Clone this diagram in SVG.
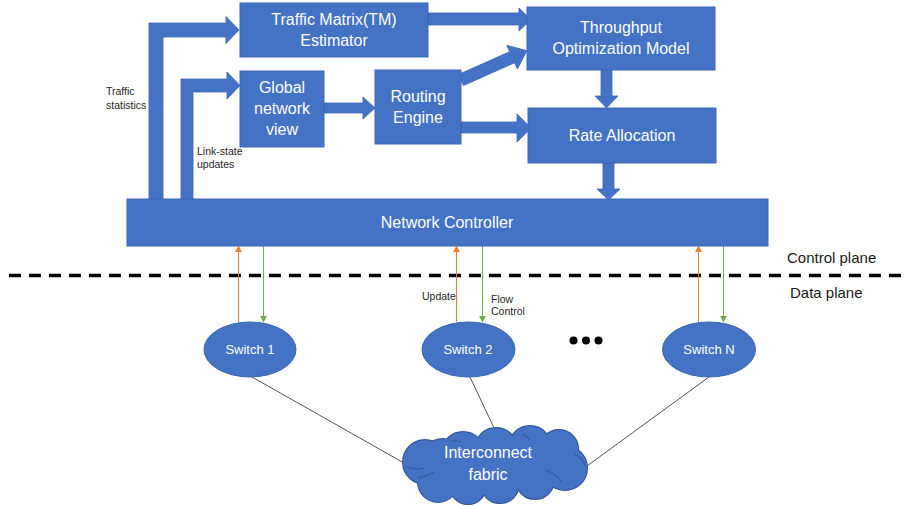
<svg xmlns="http://www.w3.org/2000/svg" width="909" height="506" viewBox="0 0 909 506">
  <style>
    .box { fill: #4472C4; stroke: #3A66B4; stroke-width: 1; }
    .blk { fill: #4472C4; stroke: #3A66B4; stroke-width: 0.8; }
    .lbl { font-family: "Liberation Sans", Arial, sans-serif; font-size: 16px; fill: #FFFFFF; text-anchor: middle; }
    .sw { font-family: "Liberation Sans", Arial, sans-serif; font-size: 13px; fill: #FFFFFF; text-anchor: middle; }
    .note { font-family: "Liberation Sans", Arial, sans-serif; font-size: 10.5px; fill: #262626; }
    .plane { font-family: "Liberation Sans", Arial, sans-serif; font-size: 15px; fill: #1A1A1A; }
    .up { stroke: #ED7D31; stroke-width: 1; fill: none; marker-end: url(#headUp); }
    .down { stroke: #70AD47; stroke-width: 1; fill: none; marker-end: url(#headDown); }
    .link { stroke: #404040; stroke-width: 0.9; fill: none; }
  </style>
  <defs>
    <marker id="headUp" viewBox="0 0 10 10" refX="9" refY="5" markerWidth="7" markerHeight="7" markerUnits="userSpaceOnUse" orient="auto">
      <path d="M0,0 L10,5 L0,10 Z" fill="#ED7D31"/>
    </marker>
    <marker id="headDown" viewBox="0 0 10 10" refX="9" refY="5" markerWidth="7" markerHeight="7" markerUnits="userSpaceOnUse" orient="auto">
      <path d="M0,0 L10,5 L0,10 Z" fill="#70AD47"/>
    </marker>
  </defs>

  <rect width="909" height="506" fill="#FFFFFF"/>

  <!-- control / data plane separator -->
  <line x1="9" y1="275.5" x2="909" y2="275.5" stroke="#000" stroke-width="3.5" stroke-dasharray="12 8"/>
  <text class="plane" x="787" y="263">Control plane</text>
  <text class="plane" x="790" y="298">Data plane</text>

  <!-- block arrows between control-plane modules -->
  <g id="connectors">
    <!-- Traffic statistics: controller -> TM estimator -->
    <polygon class="blk" points="149,200 149,23 226,23 226,16.5 239,30 226,43.5 226,37 163,37 163,200"/>
    <!-- Link-state updates: controller -> global view -->
    <polygon class="blk" points="181,200 181,79 227,79 227,72 240,85.5 227,99 227,92 193,92 193,200"/>
    <!-- global view -> routing engine -->
    <polygon class="blk" points="324,103 363,103 363,97 375,108 363,119 363,113 324,113"/>
    <!-- TM estimator -> throughput model -->
    <polygon class="blk" points="428,13 519,13 519,8 531,19.5 519,31 519,25 428,25"/>
    <!-- routing engine -> throughput model -->
    <polygon class="blk" transform="translate(461,80) rotate(-24)" points="0,-6 56,-6 56,-13 72,0 56,13 56,6 0,6"/>
    <!-- routing engine -> rate allocation -->
    <polygon class="blk" points="461,122 517,122 517,114 531,128 517,142 517,133 461,133"/>
    <!-- throughput model -> rate allocation -->
    <polygon class="blk" points="601,70 612,70 612,96 618,96 606.5,108 595,96 601,96"/>
    <!-- rate allocation -> controller -->
    <polygon class="blk" points="603,163 614,163 614,189 620,189 608.5,200 597,189 603,189"/>

    <!-- update / flow-control signalling -->
    <line class="up" x1="238.5" y1="322" x2="238.5" y2="246"/>
    <line class="down" x1="263.5" y1="246" x2="263.5" y2="322"/>
    <line class="up" x1="456.5" y1="322" x2="456.5" y2="246"/>
    <line class="down" x1="482.5" y1="246" x2="482.5" y2="322"/>
    <line class="up" x1="698.5" y1="322" x2="698.5" y2="246"/>
    <line class="down" x1="723.5" y1="246" x2="723.5" y2="322"/>

    <!-- switch links into the fabric -->
    <line class="link" x1="252" y1="377" x2="404" y2="463"/>
    <line class="link" x1="470" y1="377" x2="495" y2="430"/>
    <line class="link" x1="709" y1="377" x2="587" y2="466"/>
  </g>

  <text class="note" x="106" y="95">Traffic</text>
  <text class="note" x="106" y="109">statistics</text>
  <text class="note" x="197" y="155">Link-state</text>
  <text class="note" x="197" y="168">updates</text>
  <text class="note" x="422" y="300">Update</text>
  <text class="note" x="491" y="303">Flow</text>
  <text class="note" x="491" y="315">Control</text>

  <g id="tm-estimator">
    <rect class="box" x="240" y="3" width="188" height="54"/>
    <text class="lbl" x="334" y="25">Traffic Matrix(TM)</text>
    <text class="lbl" x="334" y="46">Estimator</text>
  </g>

  <g id="throughput-model">
    <rect class="box" x="527" y="7" width="188" height="63"/>
    <text class="lbl" x="621" y="33">Throughput</text>
    <text class="lbl" x="621" y="54">Optimization Model</text>
  </g>

  <g id="global-view">
    <rect class="box" x="240" y="71" width="84" height="76"/>
    <text class="lbl" x="282" y="93">Global</text>
    <text class="lbl" x="282" y="114">network</text>
    <text class="lbl" x="282" y="135">view</text>
  </g>

  <g id="routing-engine">
    <rect class="box" x="375" y="70" width="86" height="74"/>
    <text class="lbl" x="418" y="102">Routing</text>
    <text class="lbl" x="418" y="123">Engine</text>
  </g>

  <g id="rate-allocation">
    <rect class="box" x="528" y="108" width="188" height="55"/>
    <text class="lbl" x="622" y="141">Rate Allocation</text>
  </g>

  <g id="network-controller">
    <rect class="box" x="127" y="199" width="641" height="47"/>
    <text class="lbl" x="447" y="228">Network Controller</text>
  </g>

  <g id="switch-1">
    <ellipse class="box" cx="250" cy="349.5" rx="46" ry="27.5"/>
    <text class="sw" x="250" y="354">Switch 1</text>
  </g>

  <g id="switch-2">
    <ellipse class="box" cx="468.5" cy="349.5" rx="46.5" ry="27.5"/>
    <text class="sw" x="468" y="354">Switch 2</text>
  </g>

  <g id="ellipsis">
    <circle cx="573.5" cy="340.5" r="4" fill="#000"/>
    <circle cx="586" cy="340.5" r="4" fill="#000"/>
    <circle cx="598.5" cy="340.5" r="4" fill="#000"/>
  </g>

  <g id="switch-n">
    <ellipse class="box" cx="709" cy="349.5" rx="46.5" ry="27.5"/>
    <text class="sw" x="709" y="354">Switch N</text>
  </g>

  <g id="interconnect-fabric">
    <!-- outline pass: wide strokes, the inner halves get covered by the fill pass -->
    <g fill="#4472C4" stroke="#2F528F" stroke-width="2">
      <circle cx="425" cy="462" r="22"/>
      <circle cx="438" cy="482" r="20"/>
      <circle cx="468" cy="486" r="18"/>
      <circle cx="500" cy="484" r="19"/>
      <circle cx="535" cy="480" r="19"/>
      <circle cx="565" cy="468" r="22"/>
      <circle cx="559" cy="449" r="19"/>
      <circle cx="530" cy="447" r="21"/>
      <circle cx="496" cy="449" r="21"/>
      <circle cx="463" cy="453" r="21"/>
      <circle cx="443" cy="461" r="22"/>
    </g>
    <g fill="#4472C4">
      <circle cx="425" cy="462" r="22"/>
      <circle cx="438" cy="482" r="20"/>
      <circle cx="468" cy="486" r="18"/>
      <circle cx="500" cy="484" r="19"/>
      <circle cx="535" cy="480" r="19"/>
      <circle cx="565" cy="468" r="22"/>
      <circle cx="559" cy="449" r="19"/>
      <circle cx="530" cy="447" r="21"/>
      <circle cx="496" cy="449" r="21"/>
      <circle cx="463" cy="453" r="21"/>
      <circle cx="443" cy="461" r="22"/>
      <ellipse cx="495" cy="466" rx="72" ry="24"/>
    </g>
    <!-- inner crease arcs -->
    <g fill="none" stroke="#2F528F" stroke-width="0.9">
      <path d="M405,466 Q414,471 424,468"/>
      <path d="M418,478 Q428,476 434,472"/>
      <path d="M545,470 Q556,474 562,482"/>
      <path d="M574,454 Q583,458 585,466"/>
      <path d="M522,434 Q527,436 530,440"/>
      <path d="M452,441 Q456,440 461,442"/>
    </g>
    <text class="lbl" x="488" y="458">Interconnect</text>
    <text class="lbl" x="488" y="480">fabric</text>
  </g>
</svg>
